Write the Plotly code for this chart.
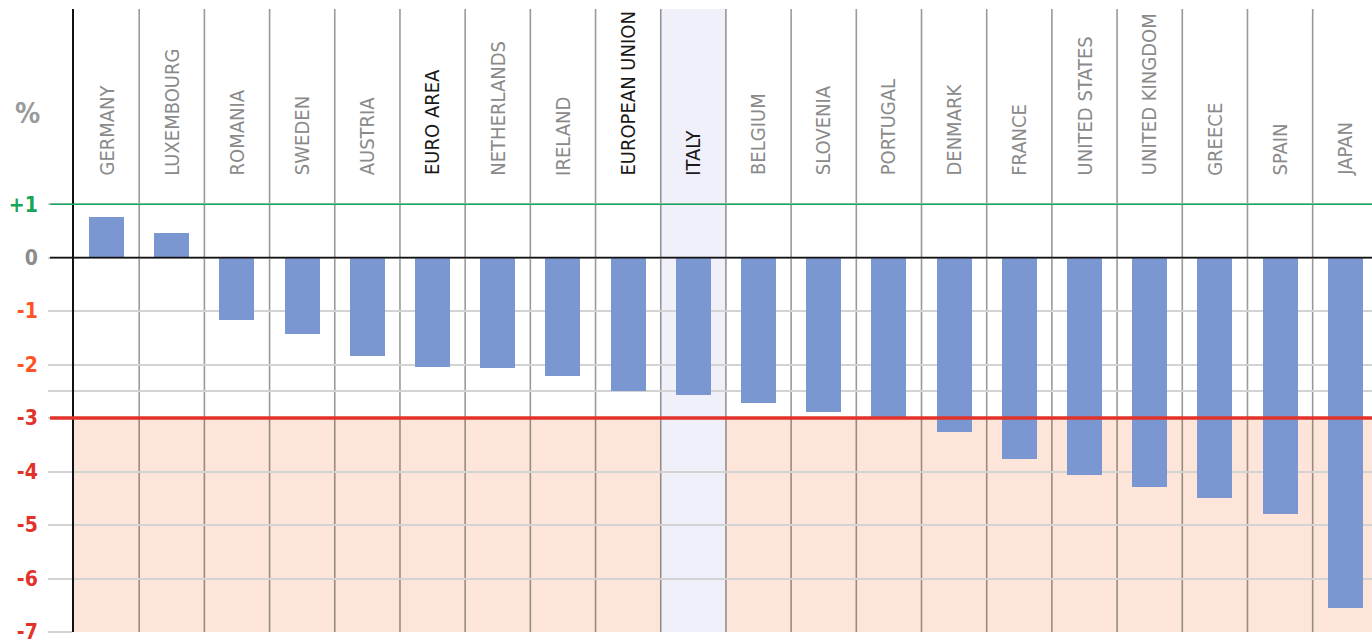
import plotly.graph_objects as go

countries = ["GERMANY", "LUXEMBOURG", "ROMANIA", "SWEDEN", "AUSTRIA", "EURO AREA",
             "NETHERLANDS", "IRELAND", "EUROPEAN UNION", "ITALY", "BELGIUM", "SLOVENIA",
             "PORTUGAL", "DENMARK", "FRANCE", "UNITED STATES", "UNITED KINGDOM",
             "GREECE", "SPAIN", "JAPAN"]
values = [0.76, 0.46, -1.17, -1.43, -1.84, -2.04, -2.07, -2.21, -2.49, -2.56,
          -2.72, -2.89, -3.0, -3.26, -3.77, -4.07, -4.29, -4.5, -4.79, -6.55]
highlighted = ["EURO AREA", "EUROPEAN UNION", "ITALY"]
focus = "ITALY"
tick_vals = [1, 0, -1, -2, -2.5, -3, -4, -5, -6, -7]
tick_text = ["+1", "0", "-1", "-2", "", "-3", "-4", "-5", "-6", "-7"]
tick_colors = ["#18a558", "#8c8c8c", "#ff5326", "#ff5326", "#ffffff", "#e2332b",
               "#e2332b", "#e2332b", "#e2332b", "#e2332b"]
limit_deficit = -3
limit_upper = 1
y_min, y_max = -7, 4.65

W, H = 1372, 641
ML, MR, MT, MB = 74, 0, 9, 9
plot_w = W - ML - MR
ext = -24 / plot_w

NARROW = "DejaVu Sans Condensed, DejaVu Sans, sans-serif"

fig = go.Figure()
fig.add_trace(go.Bar(x=list(range(len(countries))), y=values, width=0.537,
                     marker=dict(color="#7b97d1", line=dict(width=0)),
                     hoverinfo="skip"))

shapes = []
# danger zone
shapes.append(dict(type="rect", xref="paper", x0=0, x1=1, yref="y", y0=y_min, y1=limit_deficit,
                   fillcolor="#fde6d9", line=dict(width=0), layer="below"))
# highlighted column
fi = countries.index(focus)
shapes.append(dict(type="rect", xref="x", x0=fi - 0.5, x1=fi + 0.5, yref="paper", y0=0, y1=1,
                   fillcolor="#f0f0fa", line=dict(width=0), layer="below"))
# column separators
for k in range(1, len(countries)):
    shapes.append(dict(type="line", xref="x", x0=k - 0.5, x1=k - 0.5, yref="paper", y0=0, y1=1,
                       line=dict(color="rgba(0,0,0,0.4)", width=1.6), layer="below"))
# reference lines
shapes.append(dict(type="line", xref="paper", x0=ext, x1=1, yref="y", y0=0, y1=0,
                   line=dict(color="#111111", width=1.6), layer="above"))
shapes.append(dict(type="line", xref="paper", x0=ext, x1=1, yref="y", y0=limit_upper, y1=limit_upper,
                   line=dict(color="#18a560", width=1.6), layer="above"))
shapes.append(dict(type="line", xref="paper", x0=ext, x1=1, yref="y", y0=limit_deficit, y1=limit_deficit,
                   line=dict(color="#e2332b", width=3.5), layer="above"))

annotations = []
for i, c in enumerate(countries):
    annotations.append(dict(x=i, y=1.5, xref="x", yref="y", text=c, textangle=-90,
                            showarrow=False, xanchor="center", yanchor="bottom",
                            font=dict(family=NARROW, size=20,
                                      color="#1a1a1a" if c in highlighted else "#8a8a8a")))
annotations.append(dict(x=(27 - ML) / plot_w, y=2.69, xref="paper", yref="y", text="<b>%</b>",
                        showarrow=False, xanchor="center", yanchor="middle",
                        font=dict(family=NARROW, size=28, color="#9a9a9a")))

ticktext_html = ["<b><span style='color:%s'>%s</span></b>" % (col, t) for t, col in zip(tick_text, tick_colors)]

fig.update_layout(
    width=W, height=H,
    margin=dict(l=ML, r=MR, t=MT, b=MB, pad=0, autoexpand=False),
    paper_bgcolor="white", plot_bgcolor="white",
    showlegend=False, bargap=0,
    shapes=shapes, annotations=annotations,
    xaxis=dict(range=[-0.5, len(countries) - 0.59], showticklabels=False, showgrid=False,
               zeroline=False, ticks="", fixedrange=True, automargin=False),
    yaxis=dict(range=[y_min, y_max], tickvals=tick_vals, ticktext=ticktext_html,
               showgrid=True, gridcolor="#d3d3d3", gridwidth=1.6, zeroline=False,
               ticks="outside", ticklen=24, tickcolor="#d3d3d3", tickwidth=1.6,
               ticklabelstandoff=6, automargin=False, ticklabeloverflow="allow",
               showline=True, linecolor="#111111", linewidth=2,
               tickfont=dict(family=NARROW, size=21)),
)

fig.write_html("out.html", config={"displayModeBar": False},
               post_script="document.body.style.margin='0';document.body.style.overflow='hidden';")
